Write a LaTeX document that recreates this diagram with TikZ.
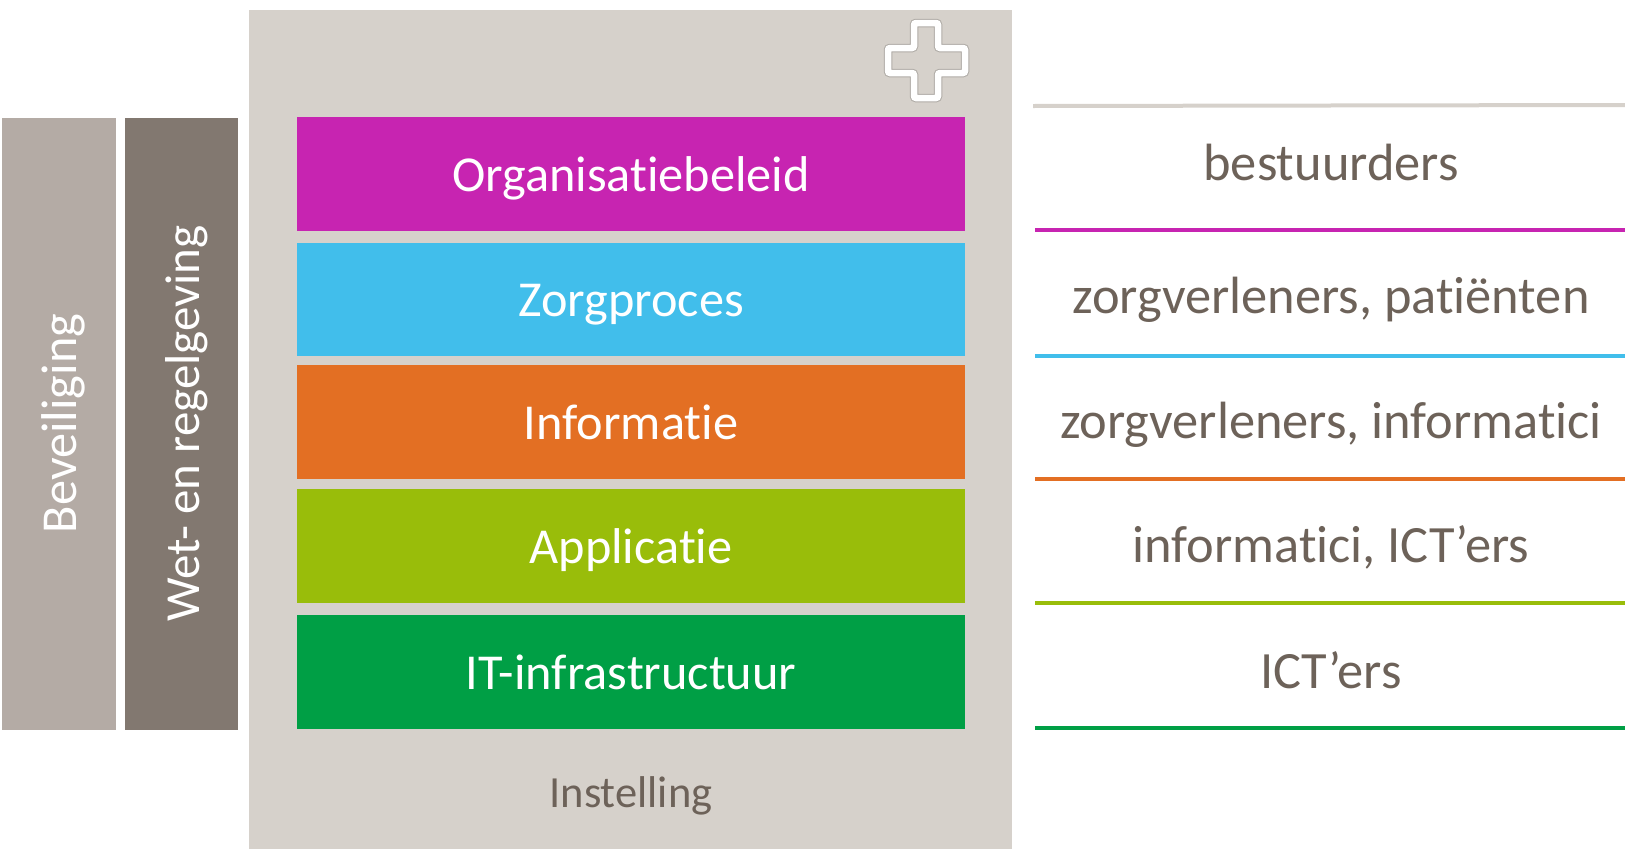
\documentclass[tikz,border=0pt]{standalone}
\usepackage{fontspec}
\setmainfont[Ligatures=NoCommon]{Carlito}
\definecolor{paneel}{HTML}{D6D1CB}
\definecolor{tekst}{HTML}{6D6259}
\definecolor{beveiliging}{HTML}{B4ABA5}
\definecolor{wet}{HTML}{827870}
\definecolor{laaga}{HTML}{C724B1}
\definecolor{laagb}{HTML}{41BEEB}
\definecolor{laagc}{HTML}{E36F23}
\definecolor{laagd}{HTML}{99BD0A}
\definecolor{laage}{HTML}{009F45}
\tikzset{
	laag/.style={inner sep=0pt,text=white,text height=40pt,text depth=5pt,font=\fontsize{50.3}{54}\selectfont},
	rol/.style={anchor=base,text=tekst,inner sep=0pt,font=\fontsize{52.4}{54}\selectfont},
}
\begin{document}
\begin{tikzpicture}[x=1pt,y=-1pt]
		\useasboundingbox (0,0) rectangle (1625,849);
		\fill[paneel] (249,10) rectangle (1012,849);
		\node[rol,font=\fontsize{44.5}{48}\selectfont] (instelling) at (631,807) {Instelling};
		% kruis
		\def\kruis{(914,23) -- (938,23) -- (938,48) -- (965,48) -- (965,73) -- (938,73) -- (938,98) -- (914,98) -- (914,73) -- (888,73) -- (888,48) -- (914,48) -- cycle}
		\draw[color=black!18!paneel,line width=8.5,rounded corners=2] \kruis;
		\draw[color=white,line width=6.5,rounded corners=2] \kruis;
		% balken links
		\node[laag,fill=beveiliging,rotate=90,minimum width=612,minimum height=114] (beveiliging) at (59,423.5) {Beveiliging};
		\node[laag,fill=wet,rotate=90,minimum width=612,minimum height=113,font=\fontsize{49}{54}\selectfont] (wet) at (181.5,423.5) {Wet- en regelgeving};
		% lagen en rollen
		\foreach \n/\y/\yy/\h/\c/\t/\b/\r in {
			a/174/230/114/laaga/Organisatiebeleid/180/bestuurders,
			b/299/355.5/113/laagb/Zorgproces/313.5/{zorgverleners, patiënten},
			c/422/479/114/laagc/Informatie/438.5/{zorgverleners, informatici},
			d/546/603/114/laagd/Applicatie/562/{informatici, ICT’ers},
			e/672/727.5/114/laage/IT-infrastructuur/688/ICT’ers}
		{
			\node[laag,fill=\c,minimum width=668,minimum height=\h] (laag\n) at (631,\y) {\t};
			\node[rol] (rol\n) at (1331,\b) {\r};
			\coordinate (begin\n) at (1035,\yy);
			\coordinate (eind\n) at (1625,\yy);
			\draw[color=\c,line width=4] (begin\n) -- (eind\n);
		}
		\coordinate (begintop) at (1033,106);
		\coordinate (eindtop) at (1625,105);
		\draw[color=paneel,line width=4] (begintop) -- (eindtop);
\end{tikzpicture}
\end{document}
